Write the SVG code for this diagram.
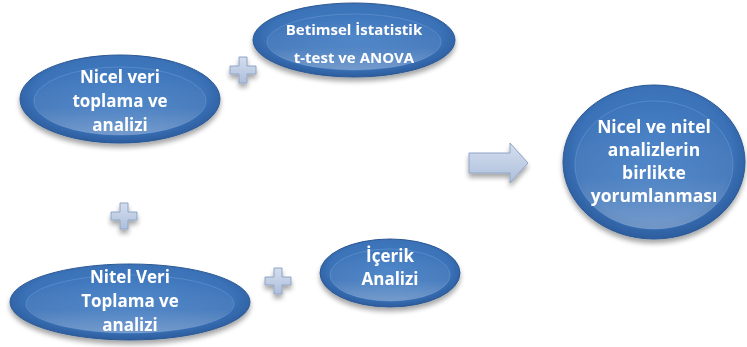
<svg xmlns="http://www.w3.org/2000/svg" width="747" height="347" viewBox="0 0 747 347">
<defs>
<radialGradient id="g" cx="50%" cy="45%" r="55%">
<stop offset="0" stop-color="#4580c6"/>
<stop offset="0.78" stop-color="#3b72b8"/>
<stop offset="1" stop-color="#2c5d9e"/>
</radialGradient>
<linearGradient id="hl" x1="0" y1="0" x2="0" y2="1">
<stop offset="0" stop-color="#ffffff" stop-opacity="0"/>
<stop offset="0.6" stop-color="#ffffff" stop-opacity="0.08"/>
<stop offset="1" stop-color="#ffffff" stop-opacity="0.3"/>
</linearGradient>
<linearGradient id="pg" x1="0" y1="0" x2="0" y2="1">
<stop offset="0" stop-color="#d4deee"/>
<stop offset="1" stop-color="#aebfdc"/>
</linearGradient>
<filter id="sh" x="-20%" y="-20%" width="140%" height="150%">
<feGaussianBlur in="SourceAlpha" stdDeviation="2.5"/>
<feOffset dx="0" dy="4"/>
<feComponentTransfer><feFuncA type="linear" slope="0.35"/></feComponentTransfer>
<feMerge><feMergeNode/><feMergeNode in="SourceGraphic"/></feMerge>
</filter>
<g id="plus">
<path d="M-4,-13 H4 V-4 H13 V4 H4 V13 H-4 V4 H-13 V-4 H-4 Z" fill="url(#pg)" stroke="#8ea4c6" stroke-width="1"/>
</g>
</defs>
<style>
.el{fill:url(#g);stroke:#2b5893;stroke-width:1}
.in{fill:url(#hl);stroke:#8fb6e4;stroke-opacity:0.3;stroke-width:1}
.t{font-family:"Open Sans","Liberation Sans",sans-serif;font-weight:bold;fill:#ffffff;text-anchor:middle}
</style>

<g id="node-nicel" filter="url(#sh)">
<ellipse class="el" cx="120" cy="99" rx="100" ry="44"/>
<ellipse class="in" cx="120" cy="101" rx="86" ry="34"/>
<text class="t" font-size="17"><tspan x="120" y="83">Nicel veri</tspan><tspan x="120" y="107">toplama ve</tspan><tspan x="120" y="131">analizi</tspan></text>
</g>

<g id="node-betimsel" filter="url(#sh)">
<ellipse class="el" cx="354" cy="40" rx="101" ry="37"/>
<ellipse class="in" cx="354" cy="42" rx="87" ry="28"/>
<text class="t" font-size="15"><tspan x="354" y="35">Betimsel İstatistik</tspan><tspan x="354" y="63">t-test ve ANOVA</tspan></text>
</g>

<g id="node-nitel" filter="url(#sh)">
<ellipse class="el" cx="130" cy="302" rx="120" ry="38"/>
<ellipse class="in" cx="130" cy="304" rx="104" ry="29"/>
<text class="t" font-size="17"><tspan x="130" y="283">Nitel Veri</tspan><tspan x="130" y="307">Toplama ve</tspan><tspan x="130" y="331">analizi</tspan></text>
</g>

<g id="node-icerik" filter="url(#sh)">
<ellipse class="el" cx="390" cy="273" rx="70" ry="34"/>
<ellipse class="in" cx="390" cy="275" rx="60" ry="26"/>
<text class="t" font-size="17"><tspan x="390" y="262">İçerik</tspan><tspan x="390" y="285">Analizi</tspan></text>
</g>

<g id="node-sonuc" filter="url(#sh)">
<ellipse class="el" cx="654" cy="162" rx="91" ry="77"/>
<ellipse class="in" cx="654" cy="165" rx="79" ry="64"/>
<text class="t" font-size="17.5"><tspan x="654" y="133">Nicel ve nitel</tspan><tspan x="654" y="156">analizlerin</tspan><tspan x="654" y="179">birlikte</tspan><tspan x="654" y="202">yorumlanması</tspan></text>
</g>

<g id="connectors" filter="url(#sh)">
<use href="#plus" x="243" y="70"/>
<use href="#plus" x="124" y="216"/>
<use href="#plus" x="278" y="281"/>
<path d="M469,153 H510 V143 L528,163 L510,183 V173 H469 Z" fill="url(#pg)" stroke="#8ea4c6" stroke-width="1"/>
</g>
</svg>
